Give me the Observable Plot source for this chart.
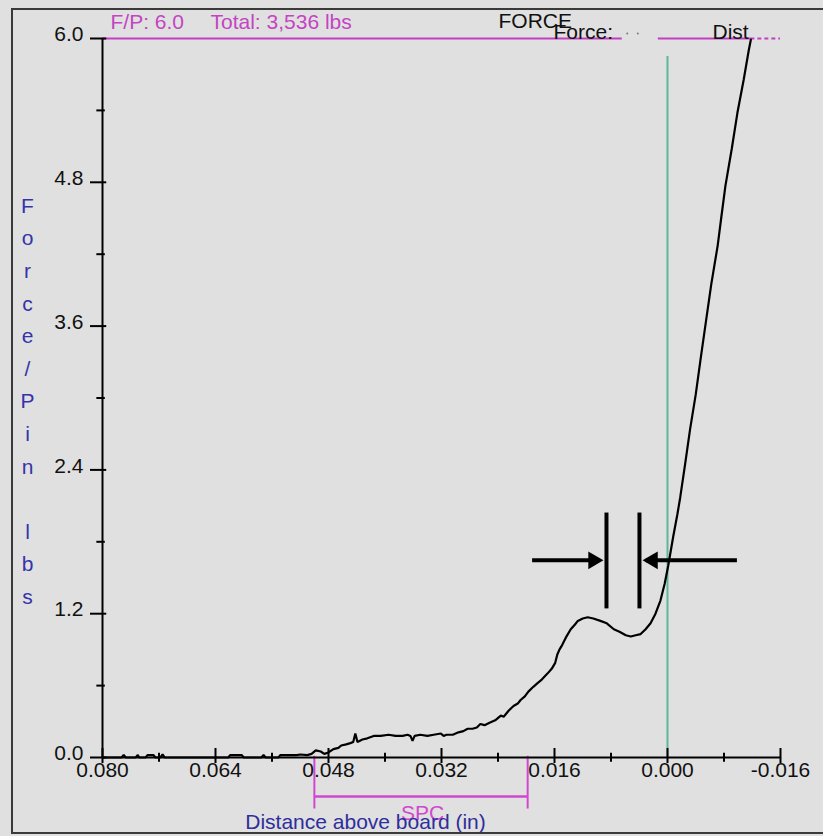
<!DOCTYPE html>
<html><head><meta charset="utf-8">
<script src="https://cdn.jsdelivr.net/npm/d3@7"></script>
<script src="https://cdn.jsdelivr.net/npm/@observablehq/plot@0.6"></script>
<style>
html,body{margin:0;padding:0;background:#e0e0e0;}
</style></head><body><div id="chart"></div>
<script>
// Curve: distance above board (in) vs force per pin (lbs)
const distance = [
  0.0800,0.0773,0.0770,0.0767,0.0753,0.0750,0.0748,0.0739,0.0736,0.0728,0.0725,0.0718,0.0715,0.0712,
  0.0622,0.0619,0.0603,0.0600,0.0575,0.0572,0.0569,0.0551,0.0548,0.0525,0.0520,0.0510,0.0504,0.0498,
  0.0491,0.0486,0.0481,
  0.0473,0.0466,0.0462,0.0455,0.0449,0.0445,0.0442,0.0439,0.0432,0.0425,0.0416,0.0406,0.0395,0.0385,
  0.0375,0.0368,0.0364,0.0361,0.0358,0.0350,0.0340,0.0331,0.0321,0.0317,0.0313,0.0304,0.0296,0.0289,
  0.0283,0.0276,0.0270,0.0265,0.0259,0.0252,0.0244,0.0236,0.0232,0.0225,0.0218,0.0212,0.0208,0.0202,
  0.0197,0.0190,0.0184,0.0178,0.0170,0.0164,0.0159,0.0156,0.0153,0.0149,0.0144,0.0137,0.0131,0.0127,
  0.0120,0.0113,0.0105,0.0095,0.0086,0.0076,0.0068,0.0059,0.0052,0.0045,0.0038,0.0031,0.0024,0.0017,
  0.0010,0.0004,-0.0001,-0.0008,-0.0014,-0.0018,-0.0025,-0.0032,-0.0040,-0.0047,-0.0054,-0.0062,
  -0.0071,-0.0076,-0.0082,-0.0091,-0.0099,-0.0108,-0.0115,-0.0118
];
const force = [
  0,0,0.02,0,0,0.02,0,0,0.02,0.02,0,0,0.025,0,
  0,0.02,0.02,0,0,0.02,0,0,0.02,0.02,0.025,0.02,0.03,0.06,
  0.05,0.03,0.04,
  0.07,0.08,0.10,0.11,0.12,0.13,0.20,0.13,0.15,0.16,0.18,0.18,0.19,0.18,
  0.18,0.19,0.18,0.14,0.18,0.19,0.18,0.19,0.20,0.18,0.19,0.19,0.21,0.22,
  0.24,0.24,0.25,0.28,0.27,0.29,0.31,0.35,0.34,0.39,0.43,0.45,0.48,0.51,
  0.55,0.59,0.62,0.65,0.70,0.74,0.79,0.86,0.90,0.94,1.00,1.07,1.11,1.14,
  1.16,1.17,1.16,1.14,1.12,1.07,1.05,1.02,1.01,1.02,1.03,1.07,1.12,1.20,
  1.31,1.45,1.60,1.84,2.03,2.17,2.45,2.74,3.03,3.33,3.62,3.95,
  4.27,4.50,4.77,5.08,5.38,5.66,5.90,5.99
];

const xTicks = [0.080, 0.064, 0.048, 0.032, 0.016, 0.000, -0.016];
const xTickLabels = ["0.080","0.064","0.048","0.032","0.016","0.000","-0.016"];
const xMinorTicks = [0.072, 0.056, 0.040, 0.024, 0.008, -0.008];
const yTicks = [0, 1.2, 2.4, 3.6, 4.8, 6.0];
const yTickLabels = ["0.0","1.2","2.4","3.6","4.8","6.0"];
const yMinorTicks = [0.6, 1.8, 3.0, 4.2, 5.4];

const fpLimit = 6.0;               // F/P limit line
const zeroLine = 0.000;            // board contact marker
const zeroLineTop = 5.85;
const spcRange = [0.0500, 0.0198]; // SPC window
const gapBars = [0.00864, 0.00397];
const gapBarRange = [1.24, 2.04];
const arrowLevel = 1.645;
const arrowLeft = [0.0191, 0.0100];
const arrowRight = [-0.0099, 0.0030];
const arrowHeads = [0.0105, 0.0021];
const legendSolid = [[0.080, 0.0064], [0.0013, -0.0118]];
const legendDashed = [-0.0118, -0.016];
const legendDots = [0.0057, 0.0042];

const yLabel = ["F","o","r","c","e","/","P","i","n","\u00a0","l","b","s"];

const points = distance.map((d, i) => ({distance: d, force: force[i]}));

const MAG = "#c23ec2";
const BLUE = "#2e2e9c";
const FS = 21;

const plot = Plot.plot({
  width: 823, height: 836,
  marginLeft: 102, marginRight: 43, marginTop: 38, marginBottom: 79,
  x: {domain: [0.080, -0.016], axis: null},
  y: {domain: [0, 6], axis: null},
  style: {background: "#e0e0e0", fontFamily: "'Liberation Sans', Arial, sans-serif", fontSize: FS + "px", overflow: "visible"},
  marks: [
    // SPC bracket
    Plot.ruleX(spcRange, {x: d => d, y1: 0.01, y2: -0.43, stroke: "#d048d0", strokeWidth: 2}),
    Plot.ruleY([-0.325], {y: d => d, x1: spcRange[0], x2: spcRange[1], stroke: "#d048d0", strokeWidth: 2.5}),
    // green contact line
    Plot.ruleX([zeroLine], {x: d => d, y1: 0, y2: zeroLineTop, stroke: "#5cb898", strokeWidth: 2}),
    // top limit line / legend
    ...legendSolid.map(s => Plot.ruleY([fpLimit], {y: d => d, x1: s[0], x2: s[1], stroke: MAG, strokeWidth: 2})),
    Plot.ruleY([fpLimit], {y: d => d, x1: legendDashed[0], x2: legendDashed[1], stroke: MAG, strokeWidth: 2, strokeDasharray: "4,3"}),
    Plot.dot(legendDots, {x: d => d, y: fpLimit, r: 1, fill: "#777", stroke: "none", dy: -5}),
    // axes
    Plot.ruleY([0], {y: d => d, x1: 0.080, x2: -0.016, stroke: "black", strokeWidth: 2}),
    Plot.ruleX([0.080], {x: d => d, y1: 0, y2: 6.0, stroke: "black", strokeWidth: 2}),
    Plot.ruleX(xTicks, {x: d => d, y1: -0.05, y2: 0.075, stroke: "black", strokeWidth: 2}),
    Plot.ruleX(xMinorTicks, {x: d => d, y1: -0.04, y2: 0.035, stroke: "black", strokeWidth: 2}),
    Plot.ruleY(yTicks, {y: d => d, x1: 0.0817, x2: 0.0794, stroke: "black", strokeWidth: 2}),
    Plot.ruleY(yMinorTicks, {y: d => d, x1: 0.0808, x2: 0.0796, stroke: "black", strokeWidth: 2}),
    Plot.text(xTicks, {x: d => d, y: 0, text: (d, i) => xTickLabels[i], dy: 13, lineAnchor: "middle", fill: "#111", fontSize: FS}),
    Plot.text(yTicks, {x: 0.080, y: d => d, text: (d, i) => yTickLabels[i], textAnchor: "end", dx: -19, dy: -4, lineAnchor: "middle", fill: "#111", fontSize: FS}),
    // force curve
    Plot.line(points, {x: "distance", y: "force", stroke: "black", strokeWidth: 2.2, strokeLinejoin: "miter"}),
    // annotation arrows
    Plot.ruleY([arrowLevel], {y: d => d, x1: arrowLeft[0], x2: arrowLeft[1], stroke: "black", strokeWidth: 4}),
    Plot.ruleY([arrowLevel], {y: d => d, x1: arrowRight[0], x2: arrowRight[1], stroke: "black", strokeWidth: 4}),
    Plot.dot([arrowHeads[0]], {x: d => d, y: arrowLevel, symbol: "triangle", r: 6.5, fill: "black", stroke: "none", rotate: 90}),
    Plot.dot([arrowHeads[1]], {x: d => d, y: arrowLevel, symbol: "triangle", r: 6.5, fill: "black", stroke: "none", rotate: -90}),
    Plot.ruleX(gapBars, {x: d => d, y1: gapBarRange[0], y2: gapBarRange[1], stroke: "black", strokeWidth: 4}),
    // texts
    Plot.text(["F/P: 6.0"], {frameAnchor: "top-left", dx: 8, dy: -10, lineAnchor: "bottom", textAnchor: "start", fill: "#c444c4", fontSize: FS}),
    Plot.text(["Total: 3,536 lbs"], {frameAnchor: "top-left", dx: 108, dy: -10, lineAnchor: "bottom", textAnchor: "start", fill: "#c444c4", fontSize: FS}),
    Plot.text(["FORCE"], {frameAnchor: "top-left", dx: 396, dy: -11, lineAnchor: "bottom", textAnchor: "start", fill: "#111", fontSize: FS}),
    Plot.text(["Force:"], {frameAnchor: "top-left", dx: 451, dy: 0, lineAnchor: "bottom", textAnchor: "start", fill: "#111", fontSize: FS}),
    Plot.text(["Dist"], {frameAnchor: "top-left", dx: 610, dy: 0, lineAnchor: "bottom", textAnchor: "start", fill: "#111", fontSize: FS}),
    Plot.text(["SPC"], {frameAnchor: "bottom-left", dx: 320, dy: 62, lineAnchor: "bottom", textAnchor: "middle", fill: "#d048d0", fontSize: FS}),
    Plot.text(["Distance above board (in)"], {frameAnchor: "bottom-left", dx: 263, dy: 71, lineAnchor: "bottom", textAnchor: "middle", fill: BLUE, fontSize: FS}),
    Plot.text([yLabel.join("\n")], {frameAnchor: "left", dx: -75, textAnchor: "middle", lineAnchor: "middle", lineHeight: 32.6 / FS, fill: "#3434aa", fontSize: FS})
  ]
});

const svg = d3.select(plot);
svg.append("path").attr("d", "M830,9H12V833H830").attr("fill", "none").attr("stroke", "#3a3a3a").attr("stroke-width", 2);
document.getElementById("chart").appendChild(plot);
</script></body></html>
